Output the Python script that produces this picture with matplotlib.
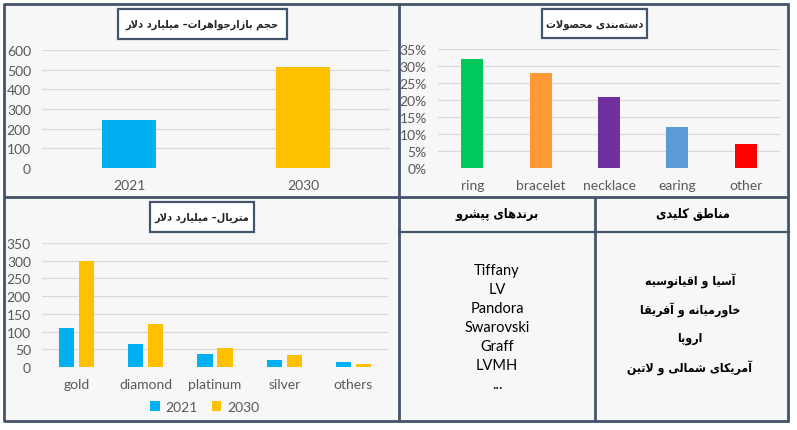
import matplotlib
matplotlib.use('Agg')
import matplotlib.pyplot as plt
import numpy as np
from matplotlib.patches import Rectangle
from matplotlib.ticker import PercentFormatter
from matplotlib import font_manager

# ---- data ----
market_years = ['2021', '2030']
market_size = [246, 514]

products = ['ring', 'bracelet', 'necklace', 'earing', 'other']
product_share = [0.32, 0.28, 0.21, 0.12, 0.07]
product_colors = ['#00C85A', '#FF9933', '#7030A0', '#5B9BD5', '#FF0000']

materials = ['gold', 'diamond', 'platinum', 'silver', 'others']
material_2021 = [110, 65, 38, 19, 13]
material_2030 = [300, 120, 54, 33, 8]

brands = ['Tiffany', 'LV', 'Pandora', 'Swarovski', 'Graff', 'LVMH', '...']
regions = ['آسیا و اقیانوسیه', 'خاورمیانه و آفریقا', 'اروپا', 'آمریکای شمالی و لاتین']

title_market = 'حجم بازارجواهرات– میلیارد دلار'
title_products = 'دسته\u200cبندی محصولات'
title_materials = 'متریال– میلیارد دلار'
head_brands = 'برندهای پیشرو'
head_regions = 'مناطق کلیدی'

BLUE = '#00B0F0'
GOLD = '#FFC000'
BORDER = '#44546A'
PANEL = '#F7F7F7'
GRID = '#D9D9D9'
TICK = '#595959'
LATIN = ['Lato', 'DejaVu Sans']

# condensed DejaVu (if installed) fits the persian titles better
_fp = font_manager.FontProperties(family='DejaVu Sans', weight='bold', stretch='condensed')
CONDENSED = 'Condensed' in font_manager.findfont(_fp, fallback_to_default=True)
FA_STRETCH = 'condensed' if CONDENSED else 'normal'
FA_SCALE = 1.1 if CONDENSED else 1.0

# ---- tiny persian shaper (matplotlib has no complex text layout) ----
# iso, fin, ini, med
FORMS = {
    'ا': ('\uFE8D', '\uFE8E', None, None),
    'آ': ('\uFE81', '\uFE82', None, None),
    'ب': ('\uFE8F', '\uFE90', '\uFE91', '\uFE92'),
    'پ': ('\uFB56', '\uFB57', '\uFB58', '\uFB59'),
    'ت': ('\uFE95', '\uFE96', '\uFE97', '\uFE98'),
    'ج': ('\uFE9D', '\uFE9E', '\uFE9F', '\uFEA0'),
    'ح': ('\uFEA1', '\uFEA2', '\uFEA3', '\uFEA4'),
    'خ': ('\uFEA5', '\uFEA6', '\uFEA7', '\uFEA8'),
    'د': ('\uFEA9', '\uFEAA', None, None),
    'ر': ('\uFEAD', '\uFEAE', None, None),
    'ز': ('\uFEAF', '\uFEB0', None, None),
    'س': ('\uFEB1', '\uFEB2', '\uFEB3', '\uFEB4'),
    'ش': ('\uFEB5', '\uFEB6', '\uFEB7', '\uFEB8'),
    'ص': ('\uFEB9', '\uFEBA', '\uFEBB', '\uFEBC'),
    'ط': ('\uFEC1', '\uFEC2', '\uFEC3', '\uFEC4'),
    'ف': ('\uFED1', '\uFED2', '\uFED3', '\uFED4'),
    'ق': ('\uFED5', '\uFED6', '\uFED7', '\uFED8'),
    'ک': ('\uFB8E', '\uFB8F', '\uFB90', '\uFB91'),
    'ل': ('\uFEDD', '\uFEDE', '\uFEDF', '\uFEE0'),
    'م': ('\uFEE1', '\uFEE2', '\uFEE3', '\uFEE4'),
    'ن': ('\uFEE5', '\uFEE6', '\uFEE7', '\uFEE8'),
    'ه': ('\uFEE9', '\uFEEA', '\uFEEB', '\uFEEC'),
    'و': ('\uFEED', '\uFEEE', None, None),
    'ی': ('\uFBFC', '\uFBFD', '\uFBFE', '\uFBFF'),
}
LAMALEF = {'ا': ('\uFEFB', '\uFEFC'), 'آ': ('\uFEF5', '\uFEF6')}


def fa(text):
    out = []
    i = 0
    n = len(text)
    while i < n:
        c = text[i]
        if c not in FORMS:
            if c != '\u200c':
                out.append(c)
            i += 1
            continue
        prev = text[i - 1] if i > 0 else None
        nxt = text[i + 1] if i + 1 < n else None
        jp = prev in FORMS and FORMS[prev][2] is not None
        if c == 'ل' and nxt in LAMALEF:
            out.append(LAMALEF[nxt][1] if jp else LAMALEF[nxt][0])
            i += 2
            continue
        jn = FORMS[c][2] is not None and nxt in FORMS
        f = FORMS[c]
        if jp and jn:
            out.append(f[3])
        elif jp:
            out.append(f[1])
        elif jn:
            out.append(f[2])
        else:
            out.append(f[0])
        i += 1
    return ''.join(reversed(out))


W, H = 797, 431
fig = plt.figure(figsize=(W / 100, H / 100), dpi=100)


def px_axes(x0, y0, x1, y1, **kw):
    return fig.add_axes([x0 / W, 1 - y1 / H, (x1 - x0) / W, (y1 - y0) / H], **kw)


def fa_text(ax, x, y, txt, size, **kw):
    return ax.text(x, y, fa(txt), ha='center', va='center', fontsize=size * FA_SCALE,
                   fontweight='bold', family=['DejaVu Sans'], fontstretch=FA_STRETCH, **kw)


# background layer: panels, borders, table text
bg = px_axes(0, 0, W, H)
bg.set_xlim(0, W)
bg.set_ylim(H, 0)
bg.axis('off')
bg.add_patch(Rectangle((4, 4), 785, 419, facecolor=PANEL, edgecolor='none'))
for x in [4.5, 399, 595, 788.5]:
    y0 = 4 if x != 595 else 198
    bg.plot([x, x], [y0, 423], color=BORDER, lw=2, solid_capstyle='butt')
for y in [4.5, 198, 422.5]:
    bg.plot([4, 789], [y, y], color=BORDER, lw=2, solid_capstyle='butt')
bg.plot([399, 789], [233, 233], color=BORDER, lw=1.6)

fa_text(bg, 497, 215, head_brands, 8.3, color='black')
fa_text(bg, 693, 215, head_regions, 8.3, color='black')
for k, b in enumerate(brands):
    bg.text(497, 271 + 19 * k, b, ha='center', va='center', fontsize=10.5,
            family=LATIN, color='black')
for k, r in enumerate(regions):
    fa_text(bg, 690, 281 + 29 * k, r, 8, color='black')


def title_box(x0, y0, x1, y1, txt):
    bg.add_patch(Rectangle((x0, y0), x1 - x0, y1 - y0, facecolor='white',
                           edgecolor=BORDER, lw=1.6, zorder=3))
    fa_text(bg, (x0 + x1) / 2, (y0 + y1) / 2, txt, 7.2, color='#262626', zorder=4)


title_box(118, 10, 287, 40, title_market)
title_box(542, 10, 647, 39, title_products)
title_box(150, 203, 254, 233, title_materials)


def style(ax, ymax, step):
    ax.set_facecolor('none')
    for s in ax.spines.values():
        s.set_visible(False)
    ax.set_ylim(0, ymax)
    ax.set_yticks(np.arange(0, ymax + step / 2, step))
    ax.yaxis.grid(True, color=GRID, lw=0.9)
    ax.set_axisbelow(True)
    ax.tick_params(axis='both', length=0, colors=TICK, labelsize=10)
    ax.tick_params(axis='y', pad=8)
    ax.tick_params(axis='x', pad=8)
    for lab in ax.get_xticklabels() + ax.get_yticklabels():
        lab.set_family(LATIN)


# market size
ax1 = px_axes(42, 51, 390, 169)
x = np.arange(len(market_years))
ax1.bar(x, market_size, width=0.31, color=[BLUE, GOLD])
ax1.set_xticks(x, market_years)
ax1.set_xlim(-0.5, 1.5)
style(ax1, 600, 100)

# product categories
ax2 = px_axes(438, 50, 780, 169)
x = np.arange(len(products))
ax2.bar(x, product_share, width=0.32, color=product_colors)
ax2.set_xticks(x, products)
ax2.set_xlim(-0.5, len(products) - 0.5)
ax2.yaxis.set_major_formatter(PercentFormatter(1.0, decimals=0))
style(ax2, 0.35, 0.05)

# materials
ax3 = px_axes(42, 244, 388, 368)
x = np.arange(len(materials))
ax3.bar(x - 0.145, material_2021, width=0.22, color=BLUE, label='2021')
ax3.bar(x + 0.145, material_2030, width=0.22, color=GOLD, label='2030')
ax3.set_xticks(x, materials)
ax3.set_xlim(-0.5, len(materials) - 0.5)
style(ax3, 350, 50)
leg = ax3.legend(loc='center', bbox_to_anchor=(0.47, -0.32), ncol=2, frameon=False,
                 handlelength=0.7, handleheight=0.7, handletextpad=0.4,
                 columnspacing=1.0, prop={'family': LATIN, 'size': 10})
for t in leg.get_texts():
    t.set_color(TICK)

fig.savefig('out.png', dpi=100)
